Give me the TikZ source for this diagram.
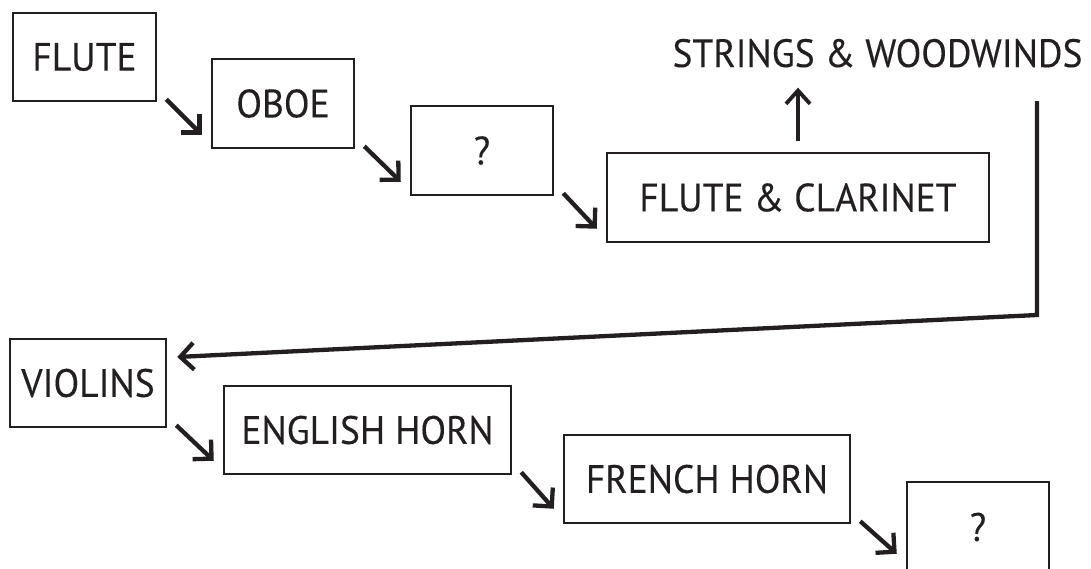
\documentclass[tikz,border=0pt]{standalone}
\usepackage{fontspec}
\setmainfont{PT Sans}[FakeStretch=0.95,FakeBold=0.2]
\usetikzlibrary{arrows.meta,calc}
\definecolor{ink}{HTML}{231F20}
\begin{document}
\begin{tikzpicture}[x=1pt,y=-1pt,
  txt/.style={text=ink, inner sep=0pt, font=\fontsize{39.5}{41}\selectfont},
  box/.style={txt, draw=ink, line width=2.5pt},
  arr/.style={draw=ink, line width=4.3pt, line cap=butt, line join=miter,
    -{Straight Barb[angle=90:19pt, line cap=butt, line join=miter]}},
  uarr/.style={draw=ink, line width=3.8pt, line cap=butt,
    -{Straight Barb[angle=84:18pt, line cap=butt, line join=miter]}},
]
\useasboundingbox (0,0) rectangle (1091,568);
\clip (0,0) rectangle (1091,568);

\node[box, minimum width=143pt, minimum height=88pt] (flute)   at (84.5,57)   {FLUTE};
\node[box, minimum width=142pt, minimum height=89pt] (oboe)    at (283,103.5) {OBOE};
\node[box, minimum width=142pt, minimum height=89pt] (q1)      at (482,150.5) {?};
\node[box, minimum width=382pt, minimum height=89pt] (fc)      at (798,197.5) {FLUTE \& CLARINET};
\node[txt, anchor=base] (sw) at (877.5,67) {STRINGS \& WOODWINDS};
\node[box, minimum width=156pt, minimum height=88pt] (violins) at (88,383)    {VIOLINS};
\node[box, minimum width=287pt, minimum height=88pt] (eh)      at (367.5,430) {ENGLISH HORN};
\node[box, minimum width=286pt, minimum height=88pt] (fh)      at (707,479)   {FRENCH HORN};
\node[box, minimum width=142pt, minimum height=90pt] (q2)      at (978,527)   {?};

\draw[arr] ([shift={(9,-3)}]flute.south east) -- ([shift={(-9,77)}]oboe.north west);
\draw[arr] ([shift={(9,-3)}]oboe.south east)  -- ([shift={(-9,77)}]q1.north west);
\draw[arr] ([shift={(9,-3)}]q1.south east)    -- ([shift={(-9,77)}]fc.north west);
\draw[uarr] ([shift={(0,-11)}]fc.north) -- ($(fc.north |- sw.south)+(0,20)$);

\coordinate (lstart) at (1037,101);
\coordinate (lbend)  at (1037,315);
\draw[arr] (lstart) -- (lbend) -- ([shift={(10,-26)}]violins.east);

\draw[arr] ([shift={(9,-3)}]violins.south east) -- ([shift={(-9,76)}]eh.north west);
\draw[arr] ([shift={(9,-3)}]eh.south east)      -- ([shift={(-9,75)}]fh.north west);
\draw[arr] ([shift={(9,-3)}]fh.south east)      -- ([shift={(-9,73)}]q2.north west);
\end{tikzpicture}
\end{document}
